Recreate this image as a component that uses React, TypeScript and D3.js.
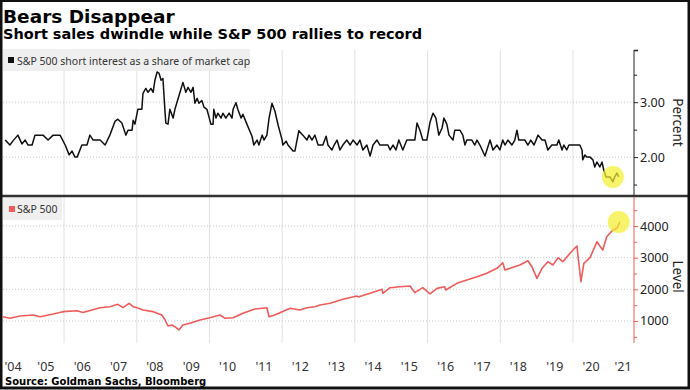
import { useEffect, useRef } from 'react'
import * as d3 from 'd3'

// short interest, % of market cap (decimal year, value)
const shortDates = [
  2004.38, 2004.51, 2004.6, 2004.73, 2004.84, 2004.93, 2005.01, 2005.12, 2005.2, 2005.42, 2005.56, 2005.7,
  2005.89, 2006.03, 2006.14, 2006.22, 2006.3, 2006.36, 2006.49, 2006.63, 2006.71, 2006.8, 2006.99, 2007.13,
  2007.26, 2007.4, 2007.48, 2007.59, 2007.7, 2007.76, 2007.87, 2007.9, 2007.95, 2008.03, 2008.14, 2008.17,
  2008.25, 2008.31, 2008.39, 2008.45, 2008.5, 2008.56, 2008.61, 2008.67, 2008.72, 2008.78, 2008.8, 2008.86,
  2008.91, 2009.0, 2009.05, 2009.19, 2009.27, 2009.35, 2009.41, 2009.49, 2009.55, 2009.6, 2009.66, 2009.71,
  2009.79, 2009.85, 2009.93, 2010.04, 2010.1, 2010.12, 2010.18, 2010.23, 2010.32, 2010.37, 2010.45, 2010.54,
  2010.62, 2010.65, 2010.73, 2010.78, 2010.87, 2010.92, 2011.03, 2011.17, 2011.22, 2011.31, 2011.36, 2011.45,
  2011.5, 2011.58, 2011.64, 2011.72, 2011.8, 2011.89, 2012.0, 2012.02, 2012.11, 2012.16, 2012.3, 2012.35,
  2012.46, 2012.57, 2012.68, 2012.74, 2012.82, 2012.9, 2012.99, 2013.12, 2013.21, 2013.26, 2013.37, 2013.43,
  2013.51, 2013.59, 2013.67, 2013.78, 2013.87, 2013.95, 2014.06, 2014.14, 2014.22, 2014.33, 2014.42, 2014.5,
  2014.61, 2014.69, 2014.91, 2014.97, 2015.05, 2015.13, 2015.21, 2015.32, 2015.43, 2015.65, 2015.71, 2015.79,
  2015.87, 2015.98, 2016.07, 2016.15, 2016.23, 2016.31, 2016.4, 2016.45, 2016.53, 2016.59, 2016.7, 2016.75,
  2016.89, 2016.97, 2017.03, 2017.08, 2017.22, 2017.3, 2017.36, 2017.44, 2017.58, 2017.72, 2017.8, 2017.91,
  2017.99, 2018.07, 2018.13, 2018.21, 2018.32, 2018.4, 2018.46, 2018.51, 2018.68, 2018.76, 2018.84, 2018.93,
  2019.04, 2019.15, 2019.23, 2019.31, 2019.42, 2019.56, 2019.61, 2019.7, 2019.75, 2019.83, 2019.89, 2020.19,
  2020.25, 2020.27, 2020.33, 2020.38, 2020.47, 2020.55, 2020.6, 2020.66, 2020.74, 2020.8, 2020.85, 2020.91,
  2021.02, 2021.1, 2021.15, 2021.21, 2021.26,
]
const shortValues = [
  2.31, 2.22, 2.3, 2.4, 2.24, 2.31, 2.22, 2.22, 2.4, 2.4, 2.31, 2.4,
  2.4, 2.22, 2.04, 2.11, 2.0, 2.0, 2.22, 2.22, 2.4, 2.31, 2.31, 2.22,
  2.4, 2.65, 2.69, 2.62, 2.4, 2.49, 2.49, 2.67, 2.6, 2.87, 2.87, 3.16,
  3.25, 3.18, 3.25, 3.18, 3.4, 3.55, 3.53, 3.4, 3.43, 2.8, 2.62, 2.6,
  2.87, 2.71, 2.87, 3.18, 3.36, 3.18, 3.27, 3.18, 3.27, 2.98, 3.07, 2.98,
  3.03, 2.91, 2.87, 2.6, 2.6, 2.87, 2.71, 2.8, 2.71, 2.8, 2.71, 2.8,
  2.71, 2.87, 2.99, 2.87, 2.71, 2.78, 2.6, 2.38, 2.22, 2.31, 2.22, 2.4,
  2.31, 2.4, 2.71, 2.98, 2.84, 2.58, 2.31, 2.22, 2.29, 2.22, 2.11, 2.11,
  2.48, 2.4, 2.31, 2.4, 2.31, 2.4, 2.22, 2.22, 2.38, 2.22, 2.13, 2.22,
  2.31, 2.13, 2.22, 2.31, 2.22, 2.31, 2.22, 2.31, 2.13, 2.22, 2.02, 2.22,
  2.31, 2.22, 2.22, 2.13, 2.22, 2.13, 2.31, 2.13, 2.31, 2.31, 2.62, 2.49,
  2.31, 2.31, 2.64, 2.8, 2.71, 2.4, 2.53, 2.71, 2.6, 2.4, 2.31, 2.49,
  2.49, 2.4, 2.22, 2.31, 2.31, 2.22, 2.31, 2.22, 2.02, 2.31, 2.13, 2.22,
  2.13, 2.31, 2.22, 2.31, 2.22, 2.31, 2.49, 2.31, 2.31, 2.22, 2.31, 2.22,
  2.4, 2.31, 2.31, 2.13, 2.22, 2.22, 2.31, 2.13, 2.22, 2.13, 2.22, 2.22,
  2.13, 1.95, 2.04, 2.0, 2.0, 1.95, 1.82, 1.91, 1.82, 1.91, 1.76, 1.64,
  1.64, 1.55, 1.64, 1.71, 1.64,
]

// S&P 500 index level
const spxDates = [
  2004.32, 2004.51, 2004.79, 2005.15, 2005.34, 2005.7, 2005.97, 2006.36, 2006.52, 2006.99, 2007.26, 2007.48,
  2007.62, 2007.79, 2007.9, 2008.01, 2008.17, 2008.45, 2008.69, 2008.78, 2008.86, 2008.97, 2009.05, 2009.16,
  2009.27, 2009.46, 2009.74, 2010.01, 2010.29, 2010.43, 2010.65, 2010.92, 2011.25, 2011.58, 2011.64, 2011.8,
  2012.0, 2012.22, 2012.49, 2012.68, 2012.9, 2013.04, 2013.32, 2013.67, 2014.06, 2014.09, 2014.42, 2014.75,
  2014.77, 2014.97, 2015.24, 2015.52, 2015.65, 2015.87, 2016.07, 2016.26, 2016.47, 2016.5, 2016.81, 2017.08,
  2017.36, 2017.63, 2017.91, 2018.07, 2018.13, 2018.27, 2018.54, 2018.76, 2018.87, 2019.01, 2019.15, 2019.31,
  2019.45, 2019.59, 2019.72, 2019.92, 2020.11, 2020.14, 2020.22, 2020.3, 2020.47, 2020.66, 2020.74, 2020.82,
  2020.93, 2021.1, 2021.21, 2021.29,
]
const spxValues = [
  1136, 1085, 1158, 1190, 1136, 1221, 1295, 1326, 1270, 1420, 1452, 1526,
  1420, 1558, 1452, 1420, 1347, 1295, 1190, 1032, 842, 873, 820, 716,
  873, 926, 1032, 1105, 1190, 1085, 1105, 1243, 1379, 1420, 1136, 1190,
  1295, 1400, 1347, 1420, 1452, 1505, 1558, 1685, 1790, 1758, 1874, 2000,
  1874, 2052, 2084, 2105, 1895, 2052, 1853, 2031, 2084, 1979, 2190, 2295,
  2400, 2506, 2664, 2841, 2610, 2664, 2768, 2904, 2715, 2348, 2664, 2873,
  2768, 2999, 2873, 3138, 3368, 3050, 2241, 2822, 3000, 3504, 3368, 3242,
  3662, 3873, 3927, 4135,
]

const yearLabels = ["'04", "'05", "'06", "'07", "'08", "'09", "'10", "'11", "'12", "'13", "'14", "'15", "'16", "'17", "'18", "'19", "'20", "'21"]
const labelYears = d3.range(2004, 2022)
const gridYears = [2006, 2008, 2010, 2012, 2014, 2016, 2018, 2020]
const topTicks = [2, 3]
const topMinorTicks = [1.5, 2.5, 3.5]
const bottomTicks = [1000, 2000, 3000, 4000]
const bottomMinorTicks = [500, 1500, 2500, 3500, 4500]
const highlightTop = [2021.1, 1.636]
const highlightBottom = [2021.26, 4126]

const W = 690
const H = 390
const FONT = "'Noto Sans', sans-serif"
const BOLD = "'DejaVu Sans', Verdana, sans-serif"
const RED = '#f05b5b'

export default function App() {
  const svgRef = useRef<SVGSVGElement>(null)

  useEffect(() => {
    const svgEl = svgRef.current
    if (!svgEl) return
    const svg = d3.select(svgEl)
    svg.selectAll('*').remove()

    const left = 3
    const right = 634
    const topY0 = 50
    const topY1 = 195
    const botY0 = 197
    const botY1 = 345

    const x = d3.scaleLinear().domain([2004.32, 2021.68]).range([left, right])
    const yTop = d3.scaleLinear().domain([1.31, 3.95]).range([topY1, topY0])
    const yBot = d3.scaleLinear().domain([242, 4916]).range([botY1, botY0])

    svg.append('rect').attr('width', W).attr('height', H).attr('fill', '#fff')

    // Vertical gridlines
    svg.append('g')
      .selectAll('line')
      .data(gridYears)
      .join('line')
      .attr('x1', d => x(d)).attr('x2', d => x(d))
      .attr('y1', topY0).attr('y2', botY1 - 2)
      .style('stroke', '#e2e2e2')
      .style('stroke-width', '1')

    // Horizontal dotted gridlines
    svg.append('g')
      .selectAll('line')
      .data(topTicks)
      .join('line')
      .attr('x1', left).attr('x2', right)
      .attr('y1', d => yTop(d)).attr('y2', d => yTop(d))
      .style('stroke', '#c8c8c8')
      .style('stroke-dasharray', '1,2')
    svg.append('g')
      .selectAll('line')
      .data(bottomTicks)
      .join('line')
      .attr('x1', left).attr('x2', right)
      .attr('y1', d => yBot(d)).attr('y2', d => yBot(d))
      .style('stroke', '#c8c8c8')
      .style('stroke-dasharray', '1,2')

    // Legends
    const legTop = svg.append('g')
    legTop.append('rect').attr('x', left).attr('y', 49).attr('width', 247).attr('height', 22)
      .style('fill', '#ececec').style('opacity', 0.85)
    legTop.append('rect').attr('x', 8).attr('y', 57).attr('width', 6).attr('height', 6).style('fill', '#111')
    legTop.append('text').attr('x', 17).attr('y', 64.5)
      .style('font-family', FONT).style('font-size', '10.5px').style('fill', '#333')
      .text('S&P 500 short interest as a share of market cap')

    const legBot = svg.append('g')
    legBot.append('rect').attr('x', left).attr('y', 197).attr('width', 59).attr('height', 23)
      .style('fill', '#ececec').style('opacity', 0.85)
    legBot.append('rect').attr('x', 9).attr('y', 206).attr('width', 6).attr('height', 6).style('fill', RED)
    legBot.append('text').attr('x', 17).attr('y', 213)
      .style('font-family', FONT).style('font-size', '10.5px').style('fill', '#333')
      .text('S&P 500')

    // Lines
    const topLine = d3.line<number>()
      .x((_, i) => x(shortDates[i]))
      .y(d => yTop(d))
    svg.append('path')
      .datum(shortValues)
      .attr('d', topLine)
      .style('fill', 'none')
      .style('stroke', '#111')
      .style('stroke-width', '1.5')
      .style('stroke-linejoin', 'round')

    const botLine = d3.line<number>()
      .x((_, i) => x(spxDates[i]))
      .y(d => yBot(d))
    svg.append('path')
      .datum(spxValues)
      .attr('d', botLine)
      .style('fill', 'none')
      .style('stroke', RED)
      .style('stroke-width', '1.6')
      .style('stroke-linejoin', 'round')

    // Highlights
    svg.append('circle')
      .attr('cx', x(highlightTop[0])).attr('cy', yTop(highlightTop[1])).attr('r', 11)
      .style('fill', '#f4ee2c').style('opacity', 0.7)
    svg.append('circle')
      .attr('cx', x(highlightBottom[0])).attr('cy', yBot(highlightBottom[1])).attr('r', 11)
      .style('fill', '#f4ee2c').style('opacity', 0.7)

    // Panel separator
    svg.append('line')
      .attr('x1', 0).attr('x2', W).attr('y1', 196).attr('y2', 196)
      .style('stroke', '#333').style('stroke-width', '2.5')

    // Right axes
    const styleAxis = (g: d3.Selection<SVGGElement, unknown, null, undefined>, color: string) => {
      g.select('.domain').remove()
      g.selectAll('.tick line').style('stroke', color)
      g.selectAll('text')
        .style('fill', '#222')
        .style('font-family', FONT)
        .style('font-size', '12.5px')
    }

    const topAxis = svg.append('g').attr('transform', `translate(${right},0)`)
    topAxis.call(d3.axisRight(yTop).tickValues(topTicks).tickSize(4).tickPadding(2).tickFormat(d3.format('.2f')))
    styleAxis(topAxis, '#222')
    const topMinor = svg.append('g').attr('transform', `translate(${right},0)`)
    topMinor.call(d3.axisRight(yTop).tickValues(topMinorTicks).tickSize(3).tickFormat(() => ''))
    styleAxis(topMinor, '#222')
    svg.append('line').attr('x1', right).attr('x2', right).attr('y1', topY0).attr('y2', topY1)
      .style('stroke', '#222').style('stroke-width', '1')
    svg.append('line').attr('x1', right).attr('x2', right + 4).attr('y1', topY0 + 0.5).attr('y2', topY0 + 0.5)
      .style('stroke', '#222').style('stroke-width', '1.5')

    const botAxis = svg.append('g').attr('transform', `translate(${right},0)`)
    botAxis.call(d3.axisRight(yBot).tickValues(bottomTicks).tickSize(4).tickPadding(2).tickFormat(d3.format('d')))
    styleAxis(botAxis, RED)
    const botMinor = svg.append('g').attr('transform', `translate(${right},0)`)
    botMinor.call(d3.axisRight(yBot).tickValues(bottomMinorTicks).tickSize(3).tickFormat(() => ''))
    styleAxis(botMinor, RED)
    svg.append('line').attr('x1', right).attr('x2', right).attr('y1', botY0).attr('y2', botY1 - 2)
      .style('stroke', RED).style('stroke-width', '1')

    // Axis titles
    svg.append('text')
      .attr('transform', `translate(673,${(yTop(3.95) + yTop(1.31)) / 2}) rotate(90)`)
      .attr('text-anchor', 'middle')
      .style('font-family', FONT).style('font-size', '13.5px').style('fill', '#222')
      .text('Percent')
    svg.append('text')
      .attr('transform', `translate(673,${yBot(2400)}) rotate(90)`)
      .attr('text-anchor', 'middle')
      .style('font-family', FONT).style('font-size', '13.5px').style('fill', '#222')
      .text('Level')

    // X axis year labels (mid-year, kept inside the plot)
    svg.append('g')
      .selectAll('text')
      .data(labelYears)
      .join('text')
      .attr('x', d => Math.max(left + 10, Math.min(right - 11, x(d + 0.5))))
      .attr('y', 371)
      .attr('text-anchor', 'middle')
      .style('font-family', FONT).style('font-size', '12.5px').style('fill', '#333')
      .text((_, i) => yearLabels[i])

    // Titles
    svg.append('text').attr('x', 3).attr('y', 23)
      .style('font-family', BOLD).style('font-weight', 'bold').style('font-size', '18.5px').style('fill', '#000')
      .text('Bears Disappear')
    svg.append('text').attr('x', 3).attr('y', 38.5)
      .style('font-family', BOLD).style('font-weight', 'bold').style('font-size', '14.5px').style('fill', '#000')
      .text('Short sales dwindle while S&P 500 rallies to record')
    svg.append('text').attr('x', 5).attr('y', 385)
      .style('font-family', BOLD).style('font-weight', 'bold').style('font-size', '10px').style('fill', '#000')
      .text('Source: Goldman Sachs, Bloomberg')

    // Frame
    svg.append('rect').attr('x', 1).attr('y', 0.5).attr('width', W - 2).attr('height', H - 2.5)
      .style('fill', 'none').style('stroke', '#111').style('stroke-width', '3')
  }, [])

  return (
    <div style={{ position: 'absolute', left: 0, top: 0 }}>
      <svg ref={svgRef} width={W} height={H} style={{ display: 'block' }} />
    </div>
  )
}
